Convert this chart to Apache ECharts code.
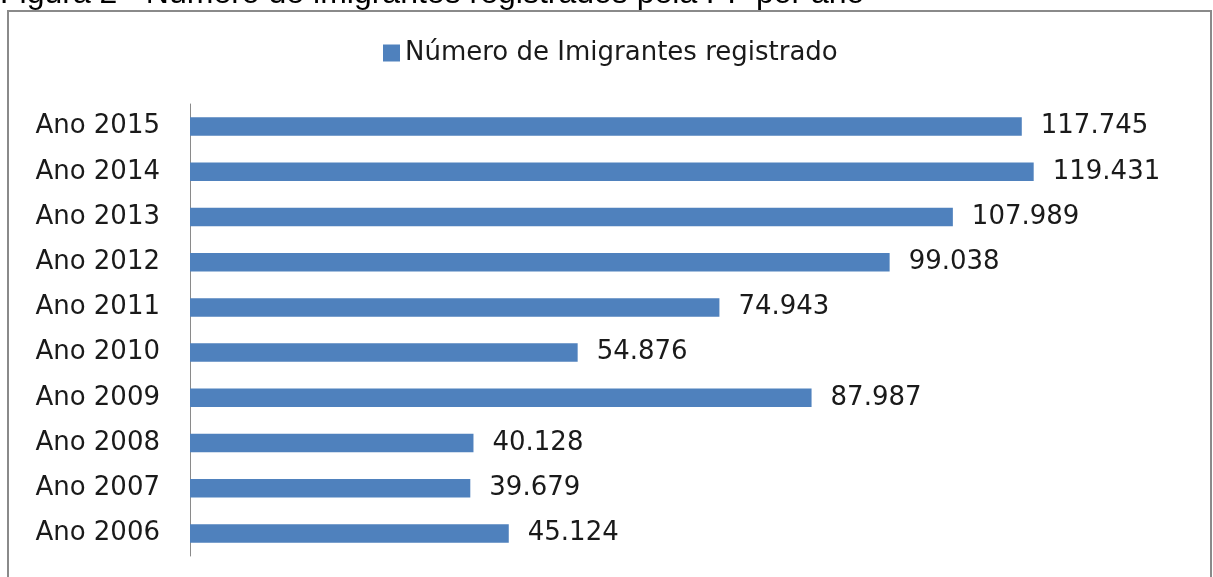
<!DOCTYPE html>
<html>
<head>
<meta charset="utf-8">
<script src="https://cdn.jsdelivr.net/npm/echarts@6/dist/echarts.min.js"></script>
<style>
html,body{margin:0;padding:0;background:#fff;}
#chart{width:1213px;height:577px;}
</style>
</head>
<body>
<div id="chart"></div>
<script>
const categories = ['Ano 2006','Ano 2007','Ano 2008','Ano 2009','Ano 2010','Ano 2011','Ano 2012','Ano 2013','Ano 2014','Ano 2015'];
const values = [45124, 39679, 40128, 87987, 54876, 74943, 99038, 107989, 119431, 117745];
const seriesName = 'Número de Imigrantes registrado';
const figTitle = 'Figura 2 - Número de imigrantes registrados pela PF por ano';

const chart = echarts.init(document.getElementById('chart'), null, {renderer:'canvas'});
const fmt = v => v.toLocaleString('de-DE');
chart.setOption({
  animation:false,
  backgroundColor:'#fff',
  graphic:[
    {type:'rect', shape:{x:8,y:11,width:1203,height:620}, style:{fill:'none',stroke:'#8a8a8a',lineWidth:2}, silent:true},
    {type:'text', left:0, top:-22, style:{text:figTitle, fontFamily:'Liberation Sans', fontSize:32, fill:'#000'}}
  ],
  legend:{
    top:35, left:378,
    itemWidth:17, itemHeight:17, itemGap:9,
    icon:'rect',
    textStyle:{fontFamily:'DejaVu Sans', fontSize:26, color:'#1a1a1a'},
    data:[seriesName]
  },
  grid:{left:190, top:104, height:452, width:989},
  xAxis:{type:'value', min:0, max:140000, show:false},
  yAxis:{
    type:'category', data:categories,
    axisLine:{show:true, lineStyle:{color:'#8a8a8a', width:1}},
    axisTick:{show:false},
    axisLabel:{fontFamily:'DejaVu Sans', fontSize:26, color:'#1a1a1a', margin:30}
  },
  series:[{
    name:seriesName, type:'bar', data:values, barWidth:'41%',
    itemStyle:{color:'#4F81BD'},
    label:{show:true, position:'right', distance:19, formatter:p=>fmt(p.value),
      fontFamily:'DejaVu Sans', fontSize:26, color:'#1a1a1a'}
  }]
});
</script>
</body>
</html>
